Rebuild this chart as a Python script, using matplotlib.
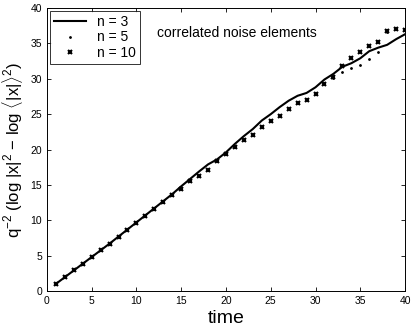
import numpy as np
import matplotlib
matplotlib.use("Agg")
from matplotlib import pyplot as plt

plt.rcParams["font.family"] = ["Liberation Sans", "DejaVu Sans"]
plt.rcParams["mathtext.fontset"] = "custom"
plt.rcParams["mathtext.rm"] = "Liberation Sans"
plt.rcParams["mathtext.it"] = "Liberation Sans"

time = np.arange(1, 41)

n3 = [1.0, 1.95, 2.9, 3.85, 4.8, 5.75, 6.7, 7.7, 8.7, 9.7,
      10.7, 11.7, 12.7, 13.7, 14.8, 15.85, 16.9, 17.9, 18.6, 19.6,
      20.8, 21.9, 22.9, 24.1, 25.0, 26.0, 26.9, 27.6, 28.0, 28.8,
      29.9, 30.7, 31.7, 32.2, 32.9, 33.9, 34.4, 34.8, 35.6, 36.3]

n5 = [1.0, 1.98, 2.92, 3.87, 4.81, 5.75, 6.65, 7.6, 8.58, 9.62,
      10.6, 11.56, 12.6, 13.54, 14.48, 15.57, 16.2, 17.17, 18.4, 19.39,
      20.38, 21.37, 22.08, 23.16, 24.0, 24.7, 25.66, 26.56, 26.98, 27.83,
      29.4, 30.1, 31.0, 31.5, 31.9, 32.8, 33.8, 36.6, 37.0, 36.9]

n10 = [0.94, 1.98, 2.92, 3.87, 4.81, 5.75, 6.65, 7.6, 8.58, 9.62,
       10.6, 11.56, 12.6, 13.54, 14.48, 15.57, 16.2, 17.17, 18.4, 19.39,
       20.38, 21.37, 22.08, 23.16, 24.0, 24.7, 25.66, 26.56, 26.98, 27.83,
       29.2, 30.24, 31.8, 32.92, 33.8, 34.67, 35.2, 36.8, 37.08, 36.93]

fig = plt.figure(figsize=(4.15, 3.29), dpi=100)
ax = fig.add_axes([0.113, 0.1155, 0.863, 0.860])

ax.plot(time, n3, "k-", lw=1.5, label="n = 3")
ax.plot(time, n5, "k.", ms=2, label="n = 5")
ax.plot(time, n10, "kx", ms=3.5, mew=1.5, label="n = 10")

ax.set_xlim(0, 40)
ax.set_ylim(0, 40)
ax.set_xticks(range(0, 41, 5))
ax.set_yticks(range(0, 41, 5))
ax.tick_params(direction="in", top=True, right=True, labelsize=7.5,
               length=3, width=0.6)
for s in ax.spines.values():
    s.set_linewidth(0.7)

ax.set_xlabel("time", fontsize=14, labelpad=3)
ax.set_ylabel(r"q$^{-2}$ (log |x|$^2$ $-$ log $\langle$|x|$\rangle^2$)",
              fontsize=12, labelpad=4)

ax.text(21.2, 36.5, "correlated noise elements", fontsize=10,
        ha="center", va="center")

leg = ax.legend(loc="upper left", fontsize=10, frameon=True, fancybox=False,
                edgecolor="black", borderaxespad=0.2, handlelength=2.3,
                labelspacing=0.1, borderpad=0.3, markerscale=1.0)
leg.get_frame().set_linewidth(0.7)

fig.savefig("out.png", dpi=100)
